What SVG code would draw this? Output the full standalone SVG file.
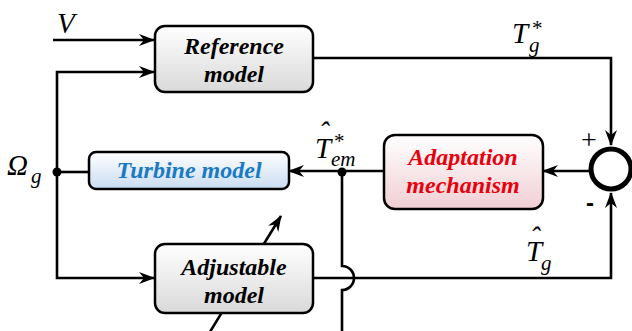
<svg xmlns="http://www.w3.org/2000/svg" width="632" height="331" viewBox="0 0 632 331">
<defs>
<linearGradient id="gGray" x1="0" y1="0" x2="0" y2="1">
<stop offset="0" stop-color="#ffffff"/><stop offset="1" stop-color="#d9d9d9"/>
</linearGradient>
<linearGradient id="gBlue" x1="0" y1="0" x2="0" y2="1">
<stop offset="0" stop-color="#ffffff"/><stop offset="1" stop-color="#c9dcf1"/>
</linearGradient>
<linearGradient id="gRed" x1="0" y1="0" x2="0" y2="1">
<stop offset="0" stop-color="#ffffff"/><stop offset="1" stop-color="#f0cfd4"/>
</linearGradient>
<marker id="arr" viewBox="0 0 16 12" refX="15" refY="6" markerWidth="16" markerHeight="12" markerUnits="userSpaceOnUse" orient="auto">
<path d="M0,0 L16,6 L0,12 L5,6 Z" fill="#000"/>
</marker>
</defs>
<style>
.box{stroke:#000;stroke-width:2.5}
.lbl{font-style:italic;font-weight:bold;font-size:24px;text-anchor:middle}
.math{font-style:italic;font-size:29px}
.sub{font-style:italic;font-size:21px}
.conn{fill:none;stroke:#000;stroke-width:2.6}
</style>
<rect width="632" height="331" fill="#fff"/>
<g id="connectors">
<path class="conn" d="M205,340 L281,216" marker-end="url(#arr)"/>
<path class="conn" d="M53,40 H154" marker-end="url(#arr)"/>
<path class="conn" d="M57,172 V72 H154" marker-end="url(#arr)"/>
<path class="conn" d="M57,172 V278 H154" marker-end="url(#arr)"/>
<path class="conn" d="M57,172 H89"/>
<path class="conn" d="M313,58 H611 V145" marker-end="url(#arr)"/>
<path class="conn" d="M313,278 H611 V193" marker-end="url(#arr)"/>
<path class="conn" d="M589,171 H543" marker-end="url(#arr)"/>
<path class="conn" d="M384,171 H289" marker-end="url(#arr)"/>
<path class="conn" d="M342,172 V266 A12,12 0 0 1 342,290 V331"/>
<circle cx="57" cy="172" r="4.5" fill="#000"/>
<circle cx="342" cy="172" r="4.5" fill="#000"/>
</g>
<g font-family="Liberation Serif, Times New Roman, serif">
<g id="reference-model">
<rect class="box" x="155" y="26" width="158" height="66" rx="10" fill="url(#gGray)"/>
<text class="lbl" x="234" y="54">Reference</text>
<text class="lbl" x="234" y="82">model</text>
</g>
<g id="turbine-model">
<rect class="box" x="89" y="152" width="200" height="37" rx="7" fill="url(#gBlue)"/>
<text class="lbl" x="189" y="178" fill="#1a7ac4">Turbine model</text>
</g>
<g id="adjustable-model">
<rect class="box" x="155" y="244" width="158" height="69" rx="10" fill="url(#gGray)"/>
<text class="lbl" x="234" y="275">Adjustable</text>
<text class="lbl" x="234" y="303">model</text>
</g>
<g id="adaptation-mechanism">
<rect class="box" x="384" y="135" width="159" height="74" rx="11" fill="url(#gRed)"/>
<text class="lbl" x="463" y="165" fill="#e8000d" font-size="27">Adaptation</text>
<text class="lbl" x="463" y="193" fill="#e8000d" font-size="27">mechanism</text>
</g>
<g id="sum">
<circle cx="611" cy="169" r="20" fill="#fff" stroke="#000" stroke-width="5"/>
<text x="581" y="149" font-size="28">+</text>
<text x="586" y="211" font-size="24" font-family="Liberation Sans, sans-serif" font-weight="bold">-</text>
</g>
<g id="labels">
<text class="math" x="57" y="33">V</text>
<text class="math" x="7" y="175" font-style="normal">Ω</text>
<text class="sub" x="31" y="183">g</text>
<text class="math" x="512" y="43">T</text>
<text class="sub" x="529" y="52">g</text>
<text class="sub" x="531" y="35">*</text>
<text class="math" x="526" y="261">T</text>
<text class="sub" x="541" y="270">g</text>
<text class="math" x="530" y="247">ˆ</text>
<text class="math" x="315" y="158">T</text>
<text class="sub" x="331" y="166">em</text>
<text class="sub" x="333" y="148">*</text>
<text class="math" x="319" y="142">ˆ</text>
</g>
</g>
</svg>
